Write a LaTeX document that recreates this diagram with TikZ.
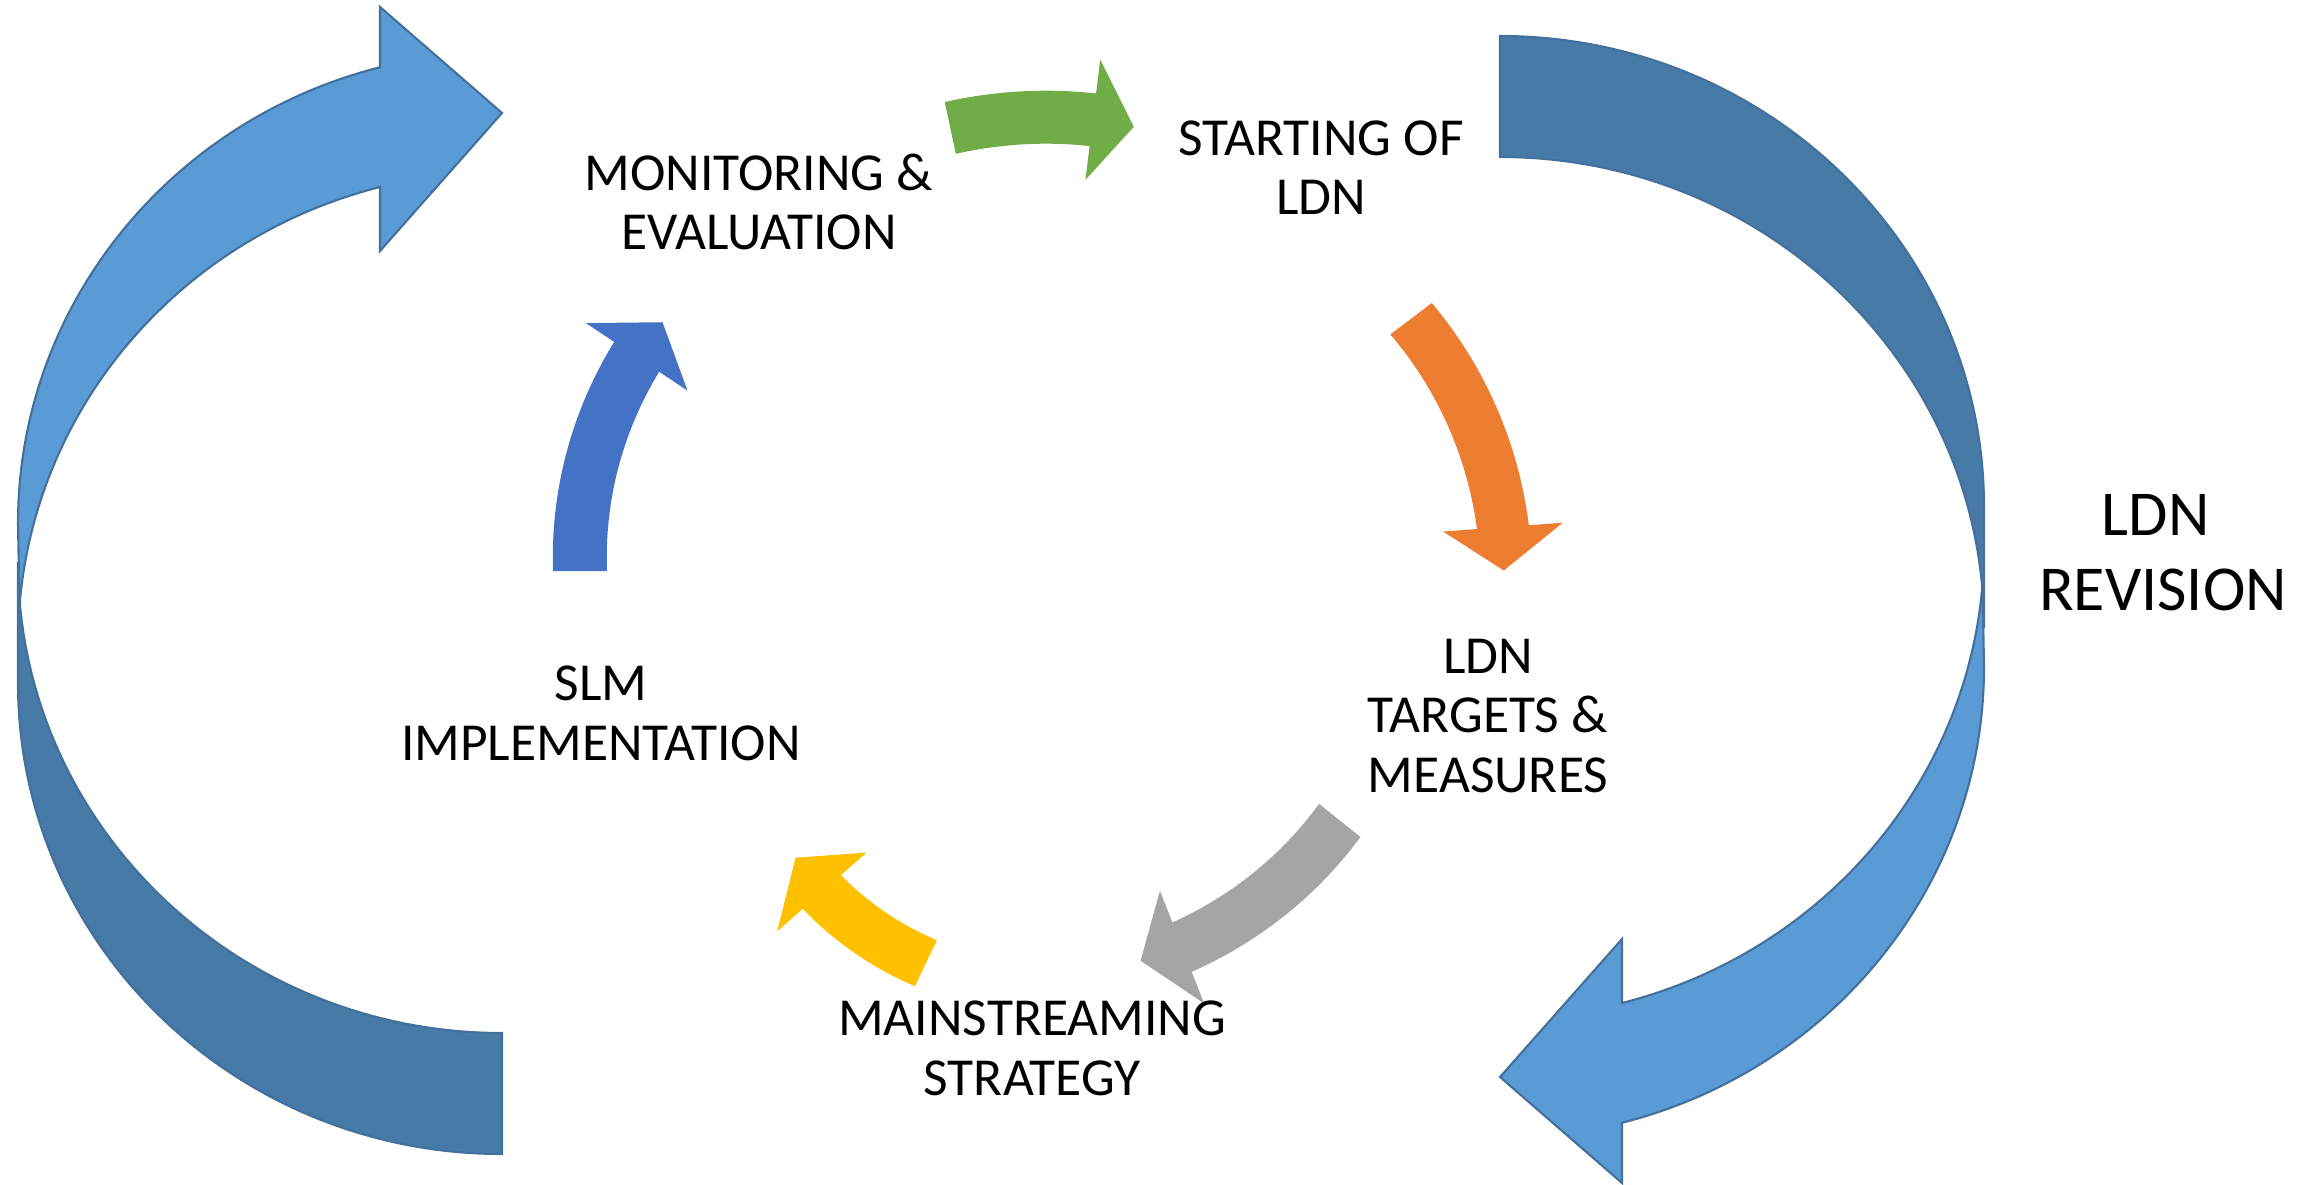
\documentclass[tikz,border=0pt]{standalone}
\usepackage{fontspec}
\setmainfont{Carlito}
\definecolor{frontblue}{HTML}{5B9BD5}
\definecolor{backblue}{HTML}{477AA7}
\definecolor{edgeblue}{HTML}{41719C}
\definecolor{stepgreen}{HTML}{70AD47}
\definecolor{steporange}{HTML}{ED7D31}
\definecolor{stepgray}{HTML}{A5A5A5}
\definecolor{stepyellow}{HTML}{FFC000}
\definecolor{stepblue}{HTML}{4472C4}

% Block arc arrow around a centre:
% #1 colour, #2/#3 centre, #4 tail angle, #5 head angle, #6 tip angle,
% #7 outer radius at tail, #8 outer radius at head, #9 band thickness
\newcommand{\ringarrow}[9]{%
  \fill[#1]
    plot[domain=#4:#5, samples=40, variable=\t]
      ({#2+(#7+(#8-#7)*(\t-(#4))/((#5)-(#4)))*cos(\t)},
       {#3+(#7+(#8-#7)*(\t-(#4))/((#5)-(#4)))*sin(\t)})
    -- ({#2+(#8+34)*cos(#5)}, {#3+(#8+34)*sin(#5)})
    -- ({#2+(#8-#9/2)*cos(#6)}, {#3+(#8-#9/2)*sin(#6)})
    -- ({#2+(#8-#9-34)*cos(#5)}, {#3+(#8-#9-34)*sin(#5)})
    -- plot[domain=#5:#4, samples=40, variable=\t]
      ({#2+(#7-#9+(#8-#7)*(\t-(#4))/((#5)-(#4)))*cos(\t)},
       {#3+(#7-#9+(#8-#7)*(\t-(#4))/((#5)-(#4)))*sin(\t)})
    -- cycle;}

% Large curved arrow: shaded back band and the front band with its head
\newcommand{\bigcurvedarrow}{%
  \path[bigback] (502,1154)
    arc[start angle=90, end angle=180, x radius=484, y radius=471]
    -- (18,562)
    arc[start angle=180, end angle=90, x radius=484, y radius=471]
    -- cycle;
  \path[bigfront] (18,523)
    arc[start angle=180, end angle=255.4, x radius=484, y radius=471]
    -- (380,7) -- (502,113) -- (380,251) -- (380,187)
    arc[start angle=255.4, end angle=184.5, x radius=484, y radius=471]
    -- cycle;}

\begin{document}
\begin{tikzpicture}[x=0.01cm, y=-0.01cm,
  bigback/.style={fill=backblue, draw=edgeblue, line width=0.6pt, line join=miter},
  bigfront/.style={fill=frontblue, draw=edgeblue, line width=0.6pt, line join=miter},
  lbl/.style={font=\fontsize{15.2pt}{16.8pt}\selectfont, align=center, anchor=base, inner sep=0pt},
  biglbl/.style={font=\fontsize{18.2pt}{21.3pt}\selectfont, align=center, anchor=base, inner sep=0pt}]

\useasboundingbox (0,0) rectangle (2318,1185);

% outer revision loop
\bigcurvedarrow
\begin{scope}[rotate around={180:(1001,595)}]
  \bigcurvedarrow
\end{scope}

% inner cycle of steps
\ringarrow{stepgreen}{1040}{550}{258}{277}{282.5}{458}{460}{53}
\ringarrow{steporange}{1096}{557}{-37.1}{-4.2}{1.9}{421}{434}{52}
\ringarrow{stepgray}{1037}{577}{38.8}{68.6}{74.9}{415}{424}{53}
\ringarrow{stepyellow}{1060}{682}{115.5}{138.6}{146.4}{337}{343}{51}
\ringarrow{stepblue}{959}{571}{180}{213.6}{220}{406}{414}{54}

% step labels (anchored on the baseline of their last line)
\node[lbl] (monitoring) at (759,250) {MONITORING \&\\EVALUATION};
\node[lbl] (starting) at (1321,215) {STARTING OF\\LDN};
\node[lbl] (targets) at (1488,792) {LDN\\TARGETS \&\\MEASURES};
\node[lbl] (mainstream) at (1032,1095) {MAINSTREAMING\\STRATEGY};
\node[lbl] (slm) at (601,760) {SLM\\IMPLEMENTATION};
\node[biglbl] (revision) at (2163,610) {LDN\hphantom{\ }\\REVISION};

\end{tikzpicture}
\end{document}
